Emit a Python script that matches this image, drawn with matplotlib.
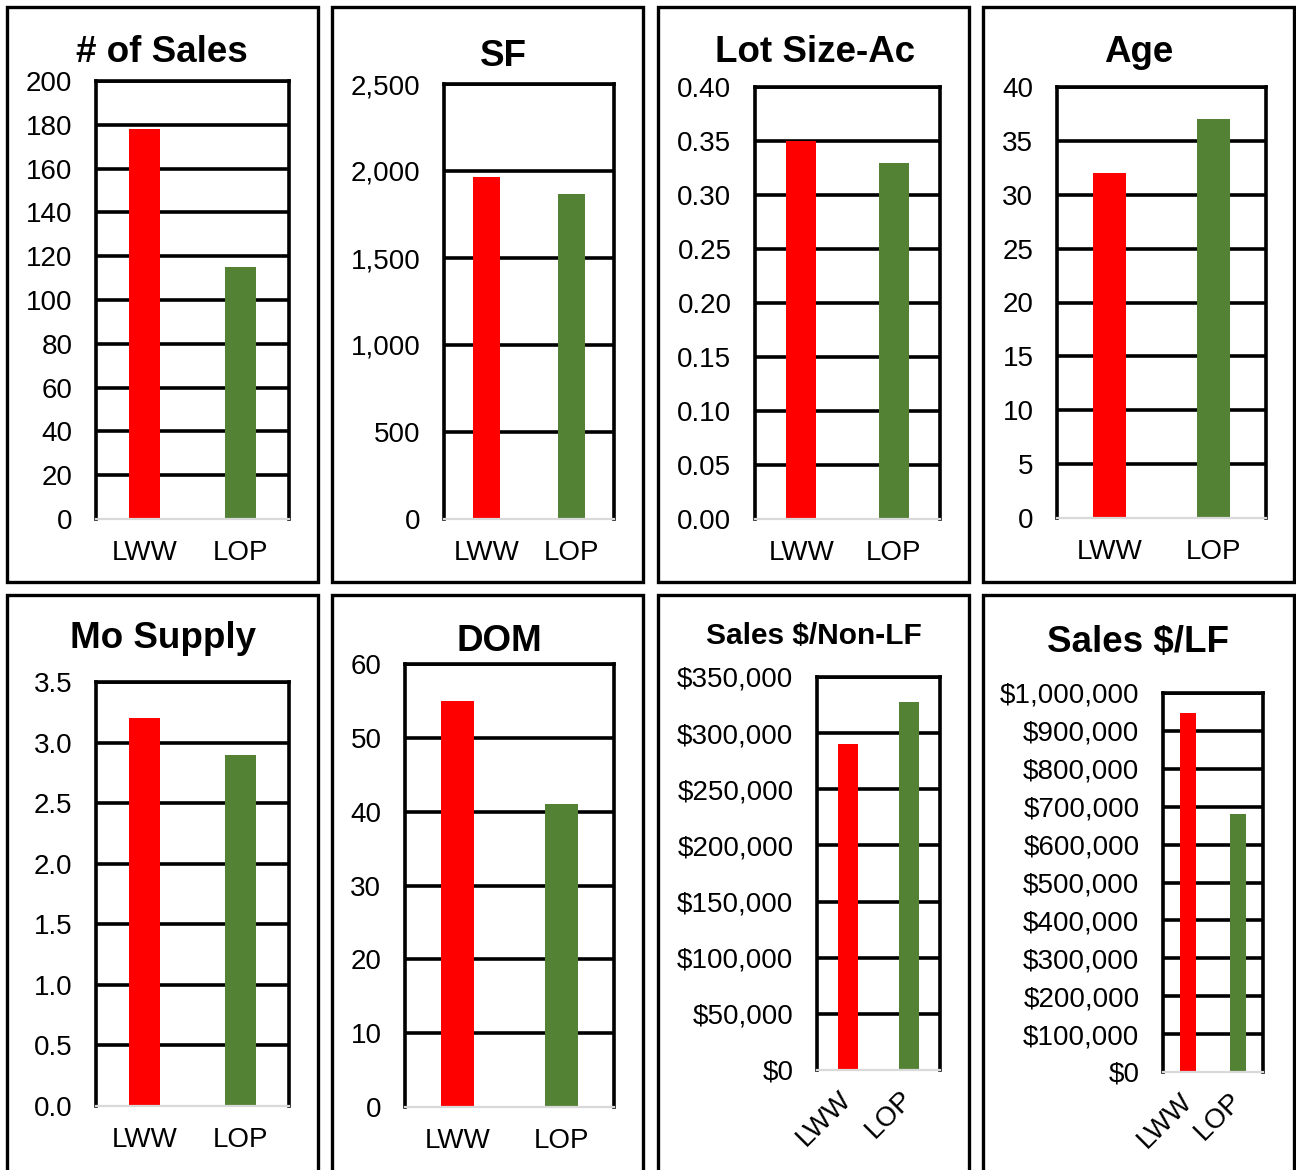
import matplotlib
matplotlib.use('Agg')
import matplotlib.pyplot as plt
from matplotlib.patches import Rectangle
from matplotlib.ticker import FuncFormatter
import numpy as np

plt.rcParams['font.family'] = ['Liberation Sans', 'DejaVu Sans']

W, H = 1296, 1170

# data
areas = ['LWW', 'LOP']
sales_count = [178, 115]
sq_ft = [1965, 1870]
lot_size = [0.35, 0.33]
age = [32, 37]
mo_supply = [3.2, 2.9]
dom = [55, 41]
price_non_lf = [290000, 328000]
price_lf = [947000, 680000]

bar_colors = ['#FF0000', '#548235']


def px_box(x0, y0, x1, y1):
    # pixel box (top-left origin) -> figure fraction rect
    return [x0 / W, 1 - y1 / H, (x1 - x0) / W, (y1 - y0) / H]


# title, values, y max, y step, label format, frame box, axes box, title pos, title size, rotated labels
panels = [
    ('# of Sales', sales_count, 200, 20, '{:.0f}', (7, 7, 318, 582), (96, 81, 289, 519), (162, 52), 26.5, False),
    ('SF', sq_ft, 2500, 500, '{:,.0f}', (332, 7, 643, 582), (444, 84, 614, 519), (503, 56), 26.5, False),
    ('Lot Size-Ac', lot_size, 0.40, 0.05, '{:.2f}', (658, 7, 969, 582), (755, 87, 940, 519), (815, 52), 26.5, False),
    ('Age', age, 40, 5, '{:.0f}', (983, 7, 1294, 582), (1057, 87, 1266, 518), (1139, 52), 26.5, False),
    ('Mo Supply', mo_supply, 3.5, 0.5, '{:.1f}', (7, 595, 318, 1185), (96, 682, 289, 1106), (163, 639), 26.5, False),
    ('DOM', dom, 60, 10, '{:.0f}', (332, 595, 643, 1185), (405, 664, 614, 1107), (499, 641), 26.5, False),
    ('Sales $/Non-LF', price_non_lf, 350000, 50000, '${:,.0f}', (658, 595, 969, 1185), (817, 677, 940, 1070), (814, 636), 21.5, True),
    ('Sales $/LF', price_lf, 1000000, 100000, '${:,.0f}', (983, 595, 1294, 1185), (1163, 693, 1263, 1072), (1138, 642), 26.5, True),
]

fig = plt.figure(figsize=(W / 100, H / 100), dpi=100)

for title, vals, ymax, step, fmt, frame, abox, tpos, tsize, rot in panels:
    fx0, fy0, fx1, fy1 = frame
    r = px_box(fx0, fy0, fx1, fy1)
    fig.patches.append(Rectangle((r[0], r[1]), r[2], r[3], transform=fig.transFigure,
                                 fill=False, edgecolor='black', linewidth=2.4, zorder=0))

    ax = fig.add_axes(px_box(*abox))
    ticks = np.arange(0, ymax + step / 2, step)
    ax.bar([0, 1], vals, width=0.32, color=bar_colors, zorder=2)
    ax.set_xlim(-0.5, 1.5)
    ax.set_ylim(0, ymax)
    ax.set_yticks(ticks)
    ax.yaxis.set_major_formatter(FuncFormatter(lambda v, p, f=fmt: f.format(v)))
    for t in ticks[1:]:
        ax.axhline(t, color='black', linewidth=2.6, zorder=1)
    ax.set_xticks([0, 1])
    if rot:
        ax.set_xticklabels(areas, rotation=45, ha='right', va='center', rotation_mode='anchor')
        ax.tick_params(axis='x', length=0, pad=18, labelsize=20)
    else:
        ax.set_xticklabels(areas)
        ax.tick_params(axis='x', length=0, pad=15, labelsize=20)
    ax.tick_params(axis='y', length=0, pad=17, labelsize=20)
    for s in ['top', 'left', 'right']:
        ax.spines[s].set_color('black')
        ax.spines[s].set_linewidth(2.6)
    ax.spines['bottom'].set_color('#D9D9D9')
    ax.spines['bottom'].set_linewidth(1.6)

    fig.text(tpos[0] / W, 1 - tpos[1] / H, title, ha='center', va='center',
             fontsize=tsize, fontweight='bold')

fig.savefig('out.png', dpi=100)
